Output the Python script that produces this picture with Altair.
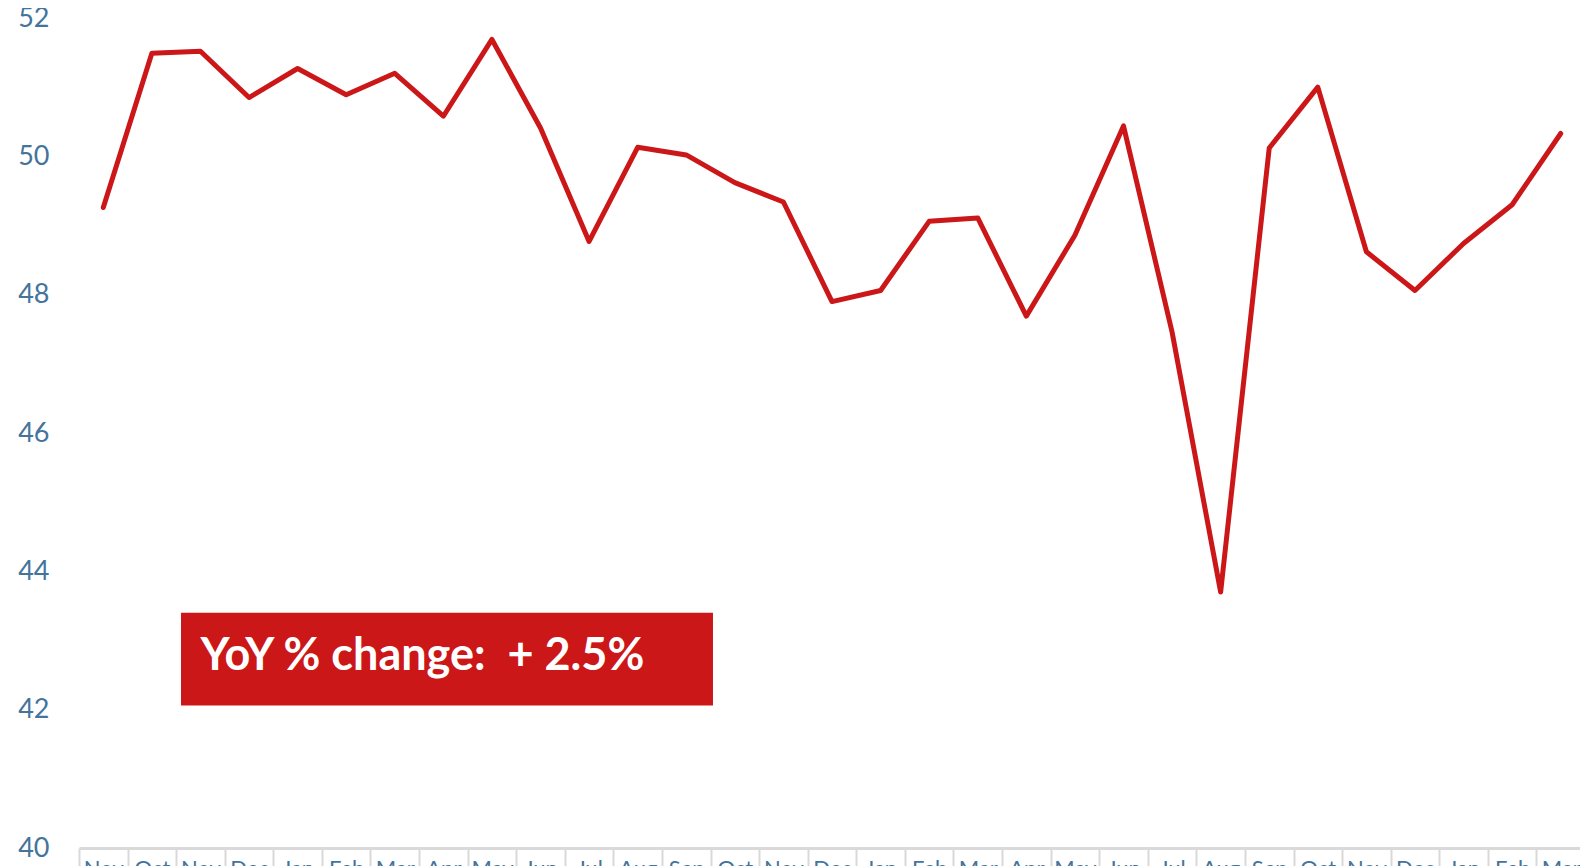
import json
import altair as alt
import pandas as pd

# ---- data ----
months = ["Nov", "Oct", "Nov", "Dec", "Jan", "Feb", "Mar", "Apr", "May", "Jun",
          "Jul", "Aug", "Sep", "Oct", "Nov", "Dec", "Jan", "Feb", "Mar", "Apr",
          "May", "Jun", "Jul", "Aug", "Sep", "Oct", "Nov", "Dec", "Jan", "Feb", "Mar"]
values = [49.26, 51.49, 51.52, 50.85, 51.27, 50.89, 51.20, 50.58, 51.69, 50.41,
          48.77, 50.13, 50.02, 49.62, 49.34, 47.90, 48.06, 49.06, 49.11, 47.69,
          48.86, 50.44, 47.46, 43.70, 50.12, 51.00, 48.62, 48.06, 48.74, 49.30, 50.33]
y_ticks = [40, 42, 44, 46, 48, 50, 52]
annotation_text = "YoY % change:\u00a0 + 2.5%"

# ---- styling ----
RED = "#CC1719"
AXIS_BLUE = "#44749C"
GRID_GRAY = "#D9D9D9"
FONT = "Lato"

n = len(months)
band = 1506 / n          # pixel width of one month cell
W, H = 1501, 830         # plot area kept inside the page width
x_max = -0.5 + W / band  # last cell runs slightly past the right edge, as in the reference

df = pd.DataFrame({"idx": list(range(n)), "month": months, "value": values})
box_df = pd.DataFrame({"idx": [1.6], "idx2": [12.55], "value": [43.40], "value2": [42.06]})
text_df = pd.DataFrame({"idx": [2.0], "value": [42.58], "label": [annotation_text]})

x_scale = alt.Scale(domain=[-0.5, x_max], nice=False, zero=False)
y_scale = alt.Scale(domain=[40, 52], nice=False, zero=False)

boundaries = [i - 0.5 for i in range(n)]
label_expr = "datum.value < %d ? %s[round(datum.value + 0.5)] : ''" % (n - 1, json.dumps(months))

x_axis = alt.Axis(
    values=boundaries, labelExpr=label_expr, title=None, grid=False,
    domainColor=GRID_GRAY, domainWidth=3,
    tickColor=GRID_GRAY, tickWidth=2, tickSize=30,
    labelPadding=-20, labelBaseline="top", labelAlign="center", labelOffset=band / 2,
    labelFontSize=22, labelColor=AXIS_BLUE, labelFont=FONT,
    labelOverlap=False, labelFlush=False, labelBound=False,
)
y_axis = alt.Axis(
    values=y_ticks, format="d", title=None, grid=False, domain=False, ticks=False,
    labelFontSize=27, labelColor=AXIS_BLUE, labelFont=FONT, labelPadding=30,
    labelBaseline="middle",
)

box = alt.Chart(box_df).mark_rect(color=RED).encode(
    x=alt.X("idx:Q", scale=x_scale),
    x2="idx2",
    y=alt.Y("value:Q", scale=y_scale),
    y2="value2",
)

text = alt.Chart(text_df).mark_text(
    align="left", baseline="alphabetic", font=FONT, fontSize=45,
    fontWeight="bold", color="white",
).encode(
    x=alt.X("idx:Q", scale=x_scale),
    y=alt.Y("value:Q", scale=y_scale),
    text="label:N",
)

line = alt.Chart(df).mark_line(
    color=RED, strokeWidth=5, strokeJoin="round", strokeCap="round",
).encode(
    x=alt.X("idx:Q", scale=x_scale, axis=x_axis),
    y=alt.Y("value:Q", scale=y_scale, axis=y_axis),
)

chart = alt.layer(line, box, text).properties(
    width=W, height=H,
    padding={"left": 71, "top": 10, "right": 0, "bottom": 18},
    autosize=alt.AutoSizeParams(type="none"),
    background="white",
).configure_view(stroke=None)

chart.save("out.html", embed_options={"renderer": "svg", "actions": False})
